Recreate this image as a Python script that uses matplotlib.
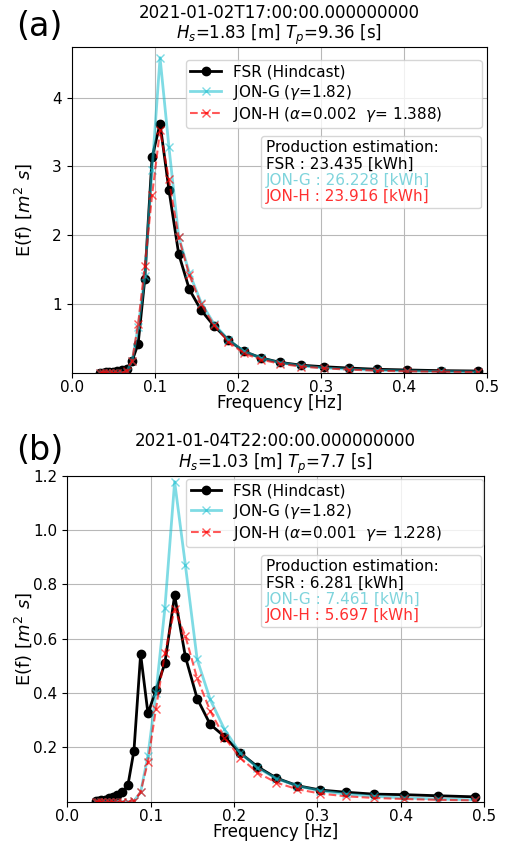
import matplotlib
matplotlib.use("Agg")
import matplotlib.pyplot as plt
from matplotlib.offsetbox import AnchoredOffsetbox, TextArea, VPacker

# spectral frequencies [Hz]
freq = [0.0339, 0.0373, 0.0410, 0.0451, 0.0496, 0.0546, 0.0601, 0.0661, 0.0727,
        0.0800, 0.0880, 0.0968, 0.1064, 0.1171, 0.1288, 0.1417, 0.1558, 0.1714,
        0.1886, 0.2074, 0.2282, 0.2510, 0.2761, 0.3037, 0.3341, 0.3675, 0.4042,
        0.4447, 0.4891]

# (a) 2021-01-02T17
fsr_a = [0.002, 0.003, 0.004, 0.006, 0.010, 0.020, 0.035, 0.060, 0.170, 0.420,
         1.36, 3.13, 3.62, 2.66, 1.73, 1.21, 0.91, 0.68, 0.475, 0.31, 0.215,
         0.15, 0.11, 0.087, 0.068, 0.05, 0.04, 0.03, 0.025]
jong_a = [0.0, 0.0, 0.0, 0.0, 0.0, 0.0, 0.001, 0.01, 0.17, 0.66, 1.40, 2.95,
          4.58, 3.28, 1.98, 1.45, 1.02, 0.71, 0.48, 0.31, 0.21, 0.145, 0.10,
          0.07, 0.05, 0.035, 0.025, 0.018, 0.012]
jonh_a = [0.0, 0.0, 0.0, 0.0, 0.0, 0.0, 0.002, 0.02, 0.17, 0.71, 1.55, 2.58,
          3.53, 2.81, 1.97, 1.42, 1.00, 0.69, 0.45, 0.28, 0.19, 0.13, 0.09,
          0.065, 0.045, 0.03, 0.02, 0.015, 0.01]

# (b) 2021-01-04T22
fsr_b = [0.002, 0.003, 0.005, 0.008, 0.012, 0.018, 0.025, 0.035, 0.06, 0.188,
         0.543, 0.325, 0.41, 0.51, 0.76, 0.534, 0.38, 0.285, 0.24, 0.18, 0.129,
         0.087, 0.059, 0.043, 0.035, 0.028, 0.026, 0.022, 0.018]
jong_b = [0.0, 0.0, 0.0, 0.0, 0.0, 0.0, 0.0, 0.0, 0.0, 0.003, 0.035, 0.17,
          0.40, 0.712, 1.178, 0.871, 0.524, 0.377, 0.266, 0.18, 0.125, 0.085,
          0.058, 0.04, 0.028, 0.02, 0.014, 0.01, 0.007]
jonh_b = [0.0, 0.0, 0.0, 0.0, 0.0, 0.0, 0.0, 0.0, 0.0, 0.003, 0.037, 0.147,
          0.342, 0.546, 0.708, 0.61, 0.454, 0.335, 0.236, 0.162, 0.107, 0.07,
          0.046, 0.03, 0.02, 0.014, 0.01, 0.007, 0.005]

panels = [
    dict(tag="(a)", time="2021-01-02T17:00:00.000000000", hs=1.83, tp=9.36,
         fsr=fsr_a, jong=jong_a, jonh=jonh_a, gamma_g=1.82, alpha_h=0.002,
         gamma_h=1.388, prod=(23.435, 26.228, 23.916), ymax=4.73,
         rect=[0.1414, 0.5568, 0.819, 0.3869], leg=(0.275, 0.0, 0.712, 0.961),
         box=(0.985, 0.728), ylab_x=-0.091, tag_y=0.969),
    dict(tag="(b)", time="2021-01-04T22:00:00.000000000", hs=1.03, tp=7.7,
         fsr=fsr_b, jong=jong_b, jonh=jonh_b, gamma_g=1.82, alpha_h=0.001,
         gamma_h=1.228, prod=(6.281, 7.461, 5.697), ymax=1.2,
         rect=[0.1327, 0.0467, 0.822, 0.3876], leg=(0.285, 0.0, 0.712, 0.99),
         box=(0.992, 0.757), ylab_x=-0.080, tag_y=0.464),
]

cyan = "#7fd4dc"
red = "#ff3030"

fig = plt.figure(figsize=(5.07, 8.41), dpi=100)

for p in panels:
    ax = fig.add_axes(p["rect"])
    ax.plot(freq, p["fsr"], "-o", color="black", lw=2, ms=6,
            label="FSR (Hindcast)")
    ax.plot(freq, p["jong"], "-x", color="tab:cyan", alpha=0.55, lw=2, ms=6,
            label=r"JON-G ($\gamma$=%s)" % p["gamma_g"])
    ax.plot(freq, p["jonh"], "--x", color="red", alpha=0.65, lw=1.5, ms=6,
            label=r"JON-H ($\alpha$=%s  $\gamma$= %s)" % (p["alpha_h"], p["gamma_h"]))

    ax.set_xlim(0, 0.5)
    ax.set_ylim(0, p["ymax"])
    ax.grid(True, color="#b8b8b8")
    ax.tick_params(labelsize=11)
    ax.tick_params(axis="x", pad=2)
    # hide the zero label on the y axis
    yt = [t for t in ax.get_yticks() if 0 < t <= p["ymax"] + 1e-9]
    ax.set_yticks(yt)
    ax.set_xlabel("Frequency [Hz]", fontsize=12, labelpad=-1)
    ax.set_ylabel(r"E(f) [$m^2$ $s$]", fontsize=13)
    ax.yaxis.set_label_coords(p["ylab_x"], 0.5)
    ax.set_title("%s\n$H_s$=%s [m] $T_p$=%s [s]" % (p["time"], p["hs"], p["tp"]),
                 fontsize=12, linespacing=1.1, pad=1)

    ax.legend(loc="upper left", bbox_to_anchor=p["leg"], mode="expand",
              borderaxespad=0, fontsize=11, labelspacing=0.2,
              handlelength=2.0, borderpad=0.3)

    rows = [
        TextArea("Production estimation:", textprops=dict(color="black", fontsize=11)),
        TextArea("FSR : %.3f [kWh]" % p["prod"][0], textprops=dict(color="black", fontsize=11)),
        TextArea("JON-G : %.3f [kWh]" % p["prod"][1], textprops=dict(color=cyan, fontsize=11)),
        TextArea("JON-H : %.3f [kWh]" % p["prod"][2], textprops=dict(color=red, fontsize=11)),
    ]
    pack = VPacker(children=rows, align="left", pad=0, sep=1, width=211)
    box = AnchoredOffsetbox(loc="upper right", child=pack, pad=0.3, borderpad=0,
                            frameon=True, bbox_to_anchor=p["box"],
                            bbox_transform=ax.transAxes)
    box.patch.set_boxstyle("round,pad=0,rounding_size=0.2")
    box.patch.set_edgecolor("0.8")
    box.patch.set_alpha(0.8)
    ax.add_artist(box)

    fig.text(0.078, p["tag_y"], p["tag"], fontsize=24, ha="center", va="center")

fig.savefig("out.png", dpi=100)
